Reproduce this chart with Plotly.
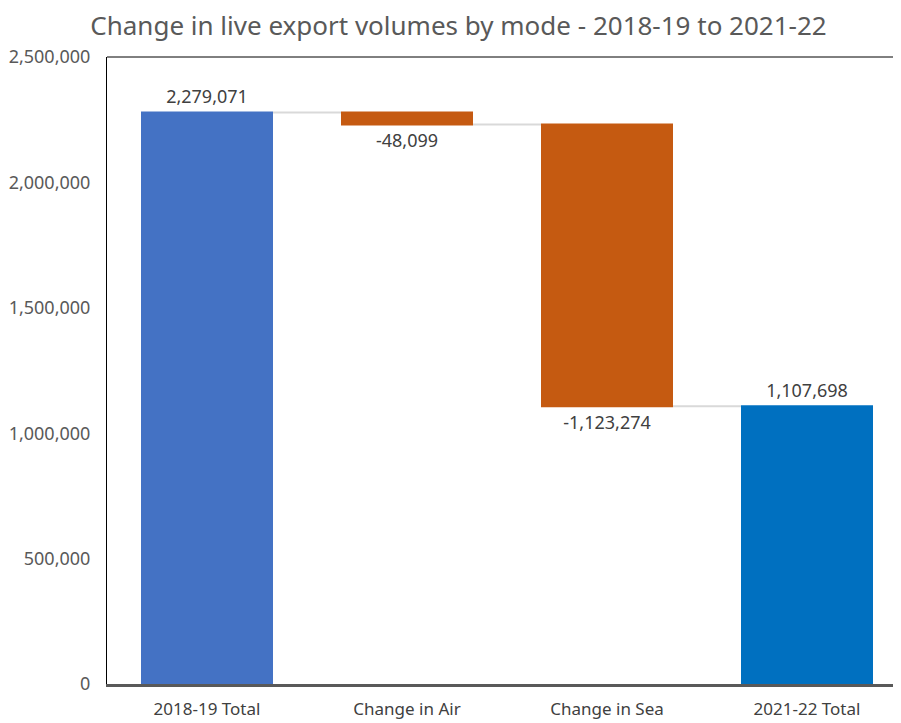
import plotly.graph_objects as go

categories = ["2018-19 Total", "Change in Air", "Change in Sea", "2021-22 Total"]
values = [2279071, -48099, -1123274, 1107698]
measures = ["relative", "relative", "relative", "total"]
tick_vals = [0, 500000, 1000000, 1500000, 2000000, 2500000]
tick_text = ["0", "500,000", "1,000,000", "1,500,000", "2,000,000", "2,500,000"]
labels = [f"{v:,}" for v in values]

font_family = "Noto Sans, Open Sans, sans-serif"

fig = go.Figure(go.Waterfall(
    x=categories,
    y=values,
    measure=measures,
    text=labels,
    textposition="outside",
    textfont=dict(family=font_family, size=18, color="#404040"),
    increasing=dict(marker=dict(color="#4472C4")),
    decreasing=dict(marker=dict(color="#C55A11")),
    totals=dict(marker=dict(color="#0070C0")),
    connector=dict(line=dict(color="#D9D9D9", width=2)),
    cliponaxis=False,
    hoverinfo="skip",
))

fig.update_layout(
    width=901, height=723,
    margin=dict(l=99, r=2, t=49, b=47),
    paper_bgcolor="white", plot_bgcolor="white",
    waterfallgap=0.34,
    showlegend=False,
    title=dict(text="Change in live export volumes by mode - 2018-19 to 2021-22",
               x=0.5, xanchor="center", y=0.975, yanchor="middle",
               font=dict(family=font_family, size=26, color="#595959")),
    xaxis=dict(range=[-0.5, 3.5], showgrid=False, showline=True, linecolor="#595959",
               linewidth=3, ticks="", ticklabelstandoff=8,
               tickfont=dict(family=font_family, size=17, color="#404040")),
    yaxis=dict(range=[0, 2500000], tickvals=tick_vals, ticktext=tick_text, showgrid=False,
               showline=True, linecolor="black", linewidth=1, ticks="", zeroline=False,
               ticklabelstandoff=12,
               tickfont=dict(family=font_family, size=18, color="#595959")),
    shapes=[dict(type="line", xref="paper", yref="paper", x0=0, x1=1, y0=1, y1=1,
                 line=dict(color="black", width=1))],
)

fig.write_html("out.html")
